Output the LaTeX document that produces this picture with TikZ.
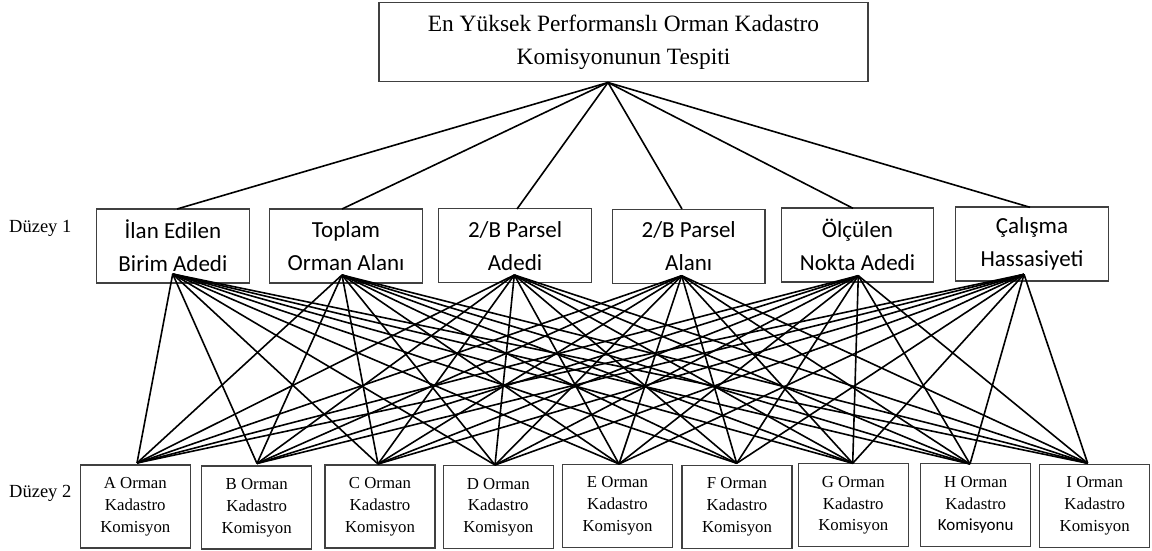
\documentclass[tikz,border=0pt]{standalone}
\usepackage{fontspec}
\setmainfont{Liberation Serif}
\newfontfamily\carlito{Carlito}
\begin{document}
\begin{tikzpicture}[x=1pt,y=-1pt,
 box/.style={draw=black!75,line width=1.2pt,inner sep=0pt,align=center,anchor=center},
 topbox/.style={box,minimum width=489pt,minimum height=79pt,font=\fontsize{23.4}{33}\selectfont},
 lone/.style={box,minimum width=152.5pt,minimum height=74pt,font=\carlito\fontsize{23}{33}\selectfont},
 ltwo/.style={box,minimum width=110pt,minimum height=83pt,font=\fontsize{16.8}{21.8}\selectfont},
 lvl/.style={anchor=west,inner sep=0pt,font=\fontsize{18.5}{22}\selectfont},
 link/.style={line width=1.6pt,black}]
\useasboundingbox (0,0) rectangle (1152,551);

% top
\node[topbox] (top) at (623.5,42.2) {En Yüksek Performanslı Orman Kadastro\\Komisyonunun Tespiti};

% level labels
\node[lvl] (d1) at (9,228) {Düzey 1};
\node[lvl] (d2) at (9,493) {Düzey 2};

% level 1
\node[lone] (n1) at (172.9,246) {İlan Edilen\\Birim Adedi};
\node[lone] (n2) at (346,246) {Toplam\\Orman Alanı};
\node[lone] (n3) at (515,245.7) {2/B Parsel\\Adedi};
\node[lone] (n4) at (688.7,246.2) {2/B Parsel\\Alanı};
\node[lone] (n5) at (857.5,245) {Ölçülen\\Nokta Adedi};
\node[lone] (n6) at (1032,244) {Çalışma\\Hassasiyeti};

% level 2
\node[ltwo] (mA) at (135.3,506.5) {A Orman\\Kadastro\\Komisyon};
\node[ltwo] (mB) at (256.7,507.5) {B Orman\\Kadastro\\Komisyon};
\node[ltwo] (mC) at (380,506.5) {C Orman\\Kadastro\\Komisyon};
\node[ltwo] (mD) at (498.3,507.2) {D Orman\\Kadastro\\Komisyon};
\node[ltwo] (mE) at (617.5,505.7) {E Orman\\Kadastro\\Komisyon};
\node[ltwo] (mF) at (737,506.7) {F Orman\\Kadastro\\Komisyon};
\node[ltwo] (mG) at (853.3,505.3) {G Orman\\Kadastro\\Komisyon};
\node[ltwo] (mH) at (975.7,505) {H Orman\\Kadastro\\{\carlito\fontsize{17}{21.8}\selectfont Komisyonu}};
\node[ltwo] (mI) at (1094.7,505.7) {I Orman\\Kadastro\\Komisyon};

% attachment points
\coordinate (hub) at (608,82.5);
\foreach \n/\x/\y in {1/177/209,2/342/209,3/517/209,4/682/209,5/853/208.3,6/1030/207.3}
  \coordinate (u\n) at (\x,\y);
\foreach \n/\x/\y in {1/172.7/274,2/342/275,3/514.3/275,4/681.7/275.7,5/858.3/275.7,6/1024/274.3}
  \coordinate (b\n) at (\x,\y);
\foreach \n/\x/\y in {A/137/463,B/257/463.5,C/378/464,D/495/465,E/619/464,F/736.7/463.3,G/852.7/463.3,H/970/464,I/1087.7/463.3}
  \coordinate (t\n) at (\x,\y);

% connectors
\foreach \n in {1,...,6} \draw[link] (hub) -- (u\n);
\foreach \n in {1,...,6}
  \foreach \m in {A,B,C,D,E,F,G,H,I}
    \draw[link] (b\n) -- (t\m);
\end{tikzpicture}
\end{document}
